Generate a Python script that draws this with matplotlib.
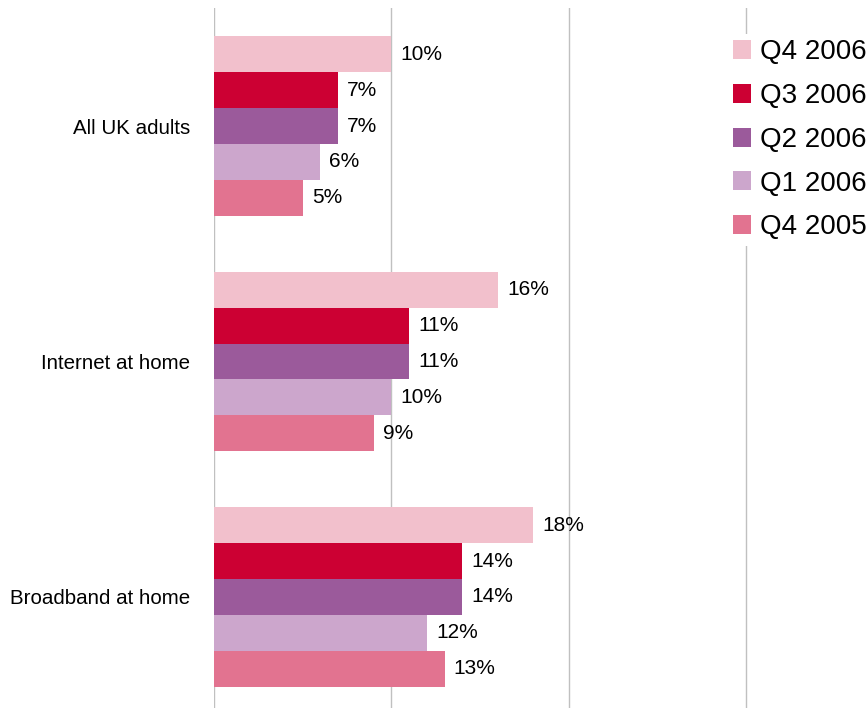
import numpy as np
from matplotlib import pyplot as plt

plt.rcParams['font.family'] = ['Liberation Sans', 'DejaVu Sans']

categories = ['All UK adults', 'Internet at home', 'Broadband at home']
quarters = ['Q4 2006', 'Q3 2006', 'Q2 2006', 'Q1 2006', 'Q4 2005']
values = {
    'Q4 2006': [10, 16, 18],
    'Q3 2006': [7, 11, 14],
    'Q2 2006': [7, 11, 14],
    'Q1 2006': [6, 10, 12],
    'Q4 2005': [5, 9, 13],
}
colours = ['#F2C0CC', '#CC0033', '#9B5A9B', '#CCA6CC', '#E27390']


def main():
    fig = plt.figure(figsize=(8.68, 7.08), dpi=100)
    ax = fig.add_axes([0.2465, -0.0095, 0.818, 0.9978])

    bar_h = 0.1525
    y = np.arange(len(categories))
    for i, q in enumerate(quarters):
        pos = y + (i - 2) * bar_h
        bars = ax.barh(pos, values[q], height=bar_h, color=colours[i],
                       label=q, zorder=2)
        for b, v in zip(bars, values[q]):
            ax.annotate('%d%%' % v, (b.get_width(), b.get_y() + bar_h / 2),
                        xytext=(6.5, 0), textcoords='offset points',
                        ha='left', va='center', fontsize=15)

    ax.set_xlim(0, 40)
    ax.set_ylim(2.5, -0.5)
    ax.set_xticks([0, 10, 20, 30, 40])
    ax.set_xticklabels([])
    ax.set_yticks(y)
    ax.set_yticklabels(categories, fontsize=14.8)
    ax.tick_params(length=0, pad=17)
    ax.grid(True, axis='x', color='#C0C0C0', linewidth=1, zorder=0)
    for s in ax.spines.values():
        s.set_visible(False)

    leg = fig.legend(loc='upper left', bbox_to_anchor=(0.8215, 0.972),
                     fontsize=20, frameon=True, facecolor='white',
                     edgecolor='white', framealpha=1, borderpad=0.2,
                     handlelength=0.68, handleheight=0.68,
                     handletextpad=0.32, labelspacing=0.64)
    leg.get_frame().set_linewidth(0)

    fig.savefig('out.png', dpi=100)


if __name__ == '__main__':
    main()
